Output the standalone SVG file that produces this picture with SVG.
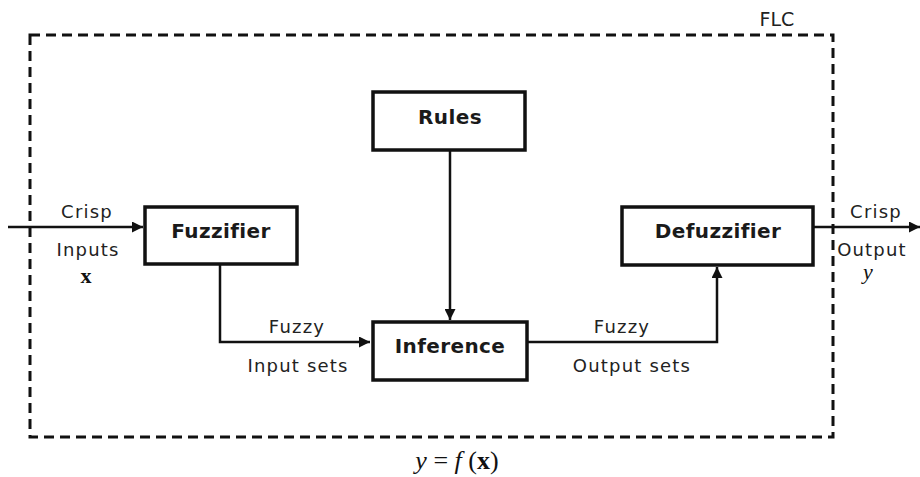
<svg xmlns="http://www.w3.org/2000/svg" width="920" height="477" viewBox="0 0 920 477">
<defs>
<marker id="arr" viewBox="0 0 10 10" refX="10" refY="5" markerWidth="12" markerHeight="11" markerUnits="userSpaceOnUse" orient="auto"><path d="M0,0 L10,5 L0,10 z" fill="#111"/></marker>
</defs>
<style>
.box{fill:#fff;stroke:#111;stroke-width:3.5}
.bl{font-family:"DejaVu Sans",Verdana,sans-serif;font-weight:bold;font-size:20px;letter-spacing:0.4px;fill:#1a1a1a;text-anchor:middle}
.lb{font-family:"DejaVu Sans",Verdana,sans-serif;font-size:18px;letter-spacing:1.2px;fill:#222;text-anchor:middle}
.math{font-family:"Liberation Serif","Times New Roman",serif;font-size:22px;fill:#111;text-anchor:middle}
.ln{fill:none;stroke:#111;stroke-width:2.5}
</style>
<rect width="920" height="477" fill="#fff"/>
<rect x="30" y="35" width="803" height="402" fill="none" stroke="#111" stroke-width="3" stroke-dasharray="10,6"/>
<text x="777" y="26" class="lb" style="font-size:19px;letter-spacing:0">FLC</text>
<g id="connectors">
<line class="ln" x1="8" y1="227" x2="143" y2="227" marker-end="url(#arr)"/>
<polyline class="ln" points="220,265 220,342 370,342" marker-end="url(#arr)"/>
<line class="ln" x1="450" y1="151" x2="450" y2="320" marker-end="url(#arr)"/>
<polyline class="ln" points="527,342 717,342 717,267" marker-end="url(#arr)"/>
<line class="ln" x1="813" y1="227" x2="920" y2="227" marker-end="url(#arr)"/>
</g>
<g id="rules"><rect class="box" x="373" y="92" width="152" height="58"/><text x="450" y="124" class="bl">Rules</text></g>
<g id="fuzzifier"><rect class="box" x="145" y="207" width="152" height="57"/><text x="221" y="238" class="bl">Fuzzifier</text></g>
<g id="inference"><rect class="box" x="373" y="322" width="154" height="58"/><text x="450" y="353" class="bl">Inference</text></g>
<g id="defuzzifier"><rect class="box" x="622" y="207" width="191" height="58"/><text x="718" y="238" class="bl">Defuzzifier</text></g>
<g id="labels">
<text x="87" y="218" class="lb">Crisp</text>
<text x="88" y="256" class="lb">Inputs</text>
<text x="86" y="283" class="math" style="font-weight:bold">x</text>
<text x="297" y="333" class="lb">Fuzzy</text>
<text x="298" y="372" class="lb">Input sets</text>
<text x="622" y="333" class="lb">Fuzzy</text>
<text x="632" y="372" class="lb">Output sets</text>
<text x="876" y="218" class="lb">Crisp</text>
<text x="872" y="256" class="lb">Output</text>
<text x="868" y="279" class="math" style="font-style:italic">y</text>
<text x="457" y="469" class="math" style="font-size:26px" xml:space="preserve"><tspan font-style="italic">y</tspan> = <tspan font-style="italic">f</tspan> (<tspan font-weight="bold">x</tspan>)</text>
</g>
</svg>
